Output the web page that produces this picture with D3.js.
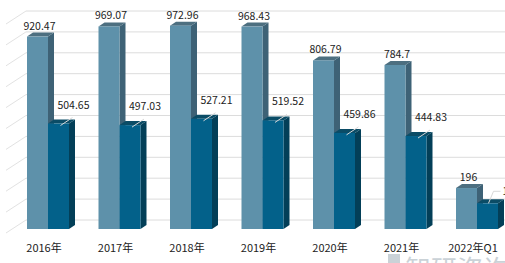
<!DOCTYPE html>
<html>
<head>
<meta charset="utf-8">
<script src="https://cdn.jsdelivr.net/npm/d3@7"></script>
<style>
  body { margin: 0; background: #fff; }
  svg { display: block; overflow: hidden; }
  text { font-family: "Noto Sans CJK SC", "Noto Sans", sans-serif; fill: #222; }
</style>
</head>
<body>
<div id="chart"></div>
<script>
// values
var years = ["2016年", "2017年", "2018年", "2019年", "2020年", "2021年", "2022年Q1"];
var seriesA = [920.47, 969.07, 972.96, 968.43, 806.79, 784.7, 196];
var seriesB = [504.65, 497.03, 527.21, 519.52, 459.86, 444.83, 123];
var gridTicks = [0, 100, 200, 300, 400, 500, 600, 700, 800, 900, 1000];

var width = 505, height = 263;
var depthX = 6, depthY = -4;   // 3d offset of the columns
var wallBack = 9;             // floor depth (front base -> back wall)

var svg = d3.select("#chart").append("svg")
  .attr("width", width)
  .attr("height", height);

var x = d3.scaleBand()
  .domain(years)
  .range([27, 498])
  .paddingInner(0.4126)
  .paddingOuter(0);

var xs = d3.scaleBand()
  .domain(["a", "b"])
  .range([0, x.bandwidth()]);

var y = d3.scaleLinear()
  .domain([0, 1000])
  .range([229, 20]);

// back wall grid + slanted side wall lines
var grid = svg.append("g");
grid.selectAll(".hline")
  .data(gridTicks)
  .join("line")
  .attr("x1", 26)
  .attr("x2", width)
  .attr("y1", d => y(d) - wallBack)
  .attr("y2", d => y(d) - wallBack)
  .style("stroke", "#dcdcdc")
  .style("stroke-width", 1);
grid.selectAll(".sline")
  .data(gridTicks)
  .join("line")
  .attr("x1", 6)
  .attr("x2", 26)
  .attr("y1", d => y(d) - wallBack + 13)
  .attr("y2", d => y(d) - wallBack)
  .style("stroke", "#e2e2e2")
  .style("stroke-width", 1);

// watermark (cut off at the bottom, like the source)
var wm = svg.append("g").style("opacity", 0.75);
wm.append("rect")
  .attr("x", 388).attr("y", 254)
  .attr("width", 12).attr("height", 12)
  .style("fill", "#b9c3ca");
wm.append("text")
  .attr("x", 405)
  .attr("y", 279)
  .style("font-size", "26px")
  .style("fill", "#b9c3ca")
  .text("智研咨询");

function drawColumn(g, x0, w, top, base, c) {
  var x1 = x0 + w;
  g.append("path")
    .attr("d", "M" + x1 + "," + top + "L" + (x1 + depthX) + "," + (top + depthY) +
      "L" + (x1 + depthX) + "," + (base + depthY) + "L" + x1 + "," + base + "Z")
    .style("fill", c.side);
  g.append("path")
    .attr("d", "M" + x0 + "," + top + "L" + (x0 + depthX) + "," + (top + depthY) +
      "L" + (x1 + depthX) + "," + (top + depthY) + "L" + x1 + "," + top + "Z")
    .style("fill", c.top);
  g.append("rect")
    .attr("x", x0)
    .attr("y", top)
    .attr("width", w)
    .attr("height", base - top)
    .style("fill", c.front);
}

var colA = { front: "#5e91aa", side: "#3e6276", top: "#4d6f80" };
var colB = { front: "#03618a", side: "#033f58", top: "#0b4c66" };

var bars = svg.append("g");
years.forEach(function (yr, i) {
  var g = bars.append("g");
  drawColumn(g, x(yr) + xs("a"), xs.bandwidth(), y(seriesA[i]), y(0), colA);
  drawColumn(g, x(yr) + xs("b"), xs.bandwidth(), y(seriesB[i]), y(0), colB);
});

// labels of the first series
svg.append("g").selectAll("text")
  .data(seriesA)
  .join("text")
  .attr("x", (d, i) => x(years[i]) + xs("a") + xs.bandwidth() / 2 + 2)
  .attr("y", d => y(d) - 7)
  .attr("text-anchor", "middle")
  .style("font-size", "10.5px")
  .text(d => d);

// labels of the second series, with leader lines
var last = years.length - 1;
var lab = svg.append("g");
seriesB.forEach(function (d, i) {
  var cx = x(years[i]) + xs("b") + xs.bandwidth() / 2;
  var top = y(d);
  if (i < last) {
    lab.append("line")
      .attr("x1", cx + 2).attr("y1", top + 2)
      .attr("x2", cx + 14).attr("y2", top - 6)
      .style("stroke", "#d8d8d8").style("stroke-width", 1);
    lab.append("text")
      .attr("x", cx + 15)
      .attr("y", top - 15)
      .attr("text-anchor", "middle")
      .style("font-size", "10.5px")
      .text(d);
  } else {
    lab.append("polyline")
      .attr("points", [[cx + 1, top], [cx + 6, top - 12], [cx + 13, top - 12]].join(" "))
      .style("fill", "none")
      .style("stroke", "#d8d8d8").style("stroke-width", 1);
    lab.append("text")
      .attr("x", cx + 15)
      .attr("y", top - 8)
      .style("font-size", "10.5px")
      .text(d);
  }
});

// category axis
var xAxis = d3.axisBottom(x).tickSize(0).tickPadding(0);
var ax = svg.append("g")
  .attr("transform", "translate(-4," + 244 + ")")
  .call(xAxis);
ax.select(".domain").remove();
ax.selectAll("text")
  .style("font-size", "11px")
  .style("font-family", "'Noto Sans CJK SC', sans-serif")
  .style("fill", "#222");
</script>
</body>
</html>
